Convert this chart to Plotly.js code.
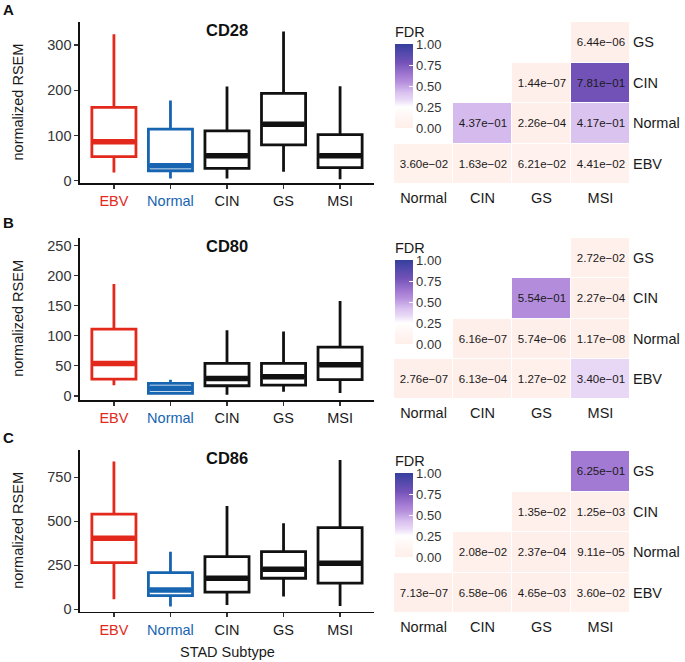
<!DOCTYPE html>
<html><head><meta charset="utf-8">
<script src="https://cdn.plot.ly/plotly-3.0.1.min.js"></script>
<style>html,body{margin:0;padding:0;background:#fff}</style>
</head><body><div id="chart" style="width:685px;height:662px"></div>
<script>
// ---------- data ----------
const subtypes = ['EBV', 'Normal', 'CIN', 'GS', 'MSI'];
const genes = ['CD28', 'CD80', 'CD86'];

// box statistics, order = subtypes
const cd28Lower  = [18, 5, 5, 20, 3];
const cd28Q1     = [53, 22, 27, 79, 29];
const cd28Median = [86, 33, 55, 125, 55];
const cd28Q3     = [162, 114, 110, 193, 102];
const cd28Upper  = [324, 177, 208, 330, 209];

const cd80Lower  = [18, 2, 2, 7, 5];
const cd80Q1     = [28, 4.5, 17, 18, 27];
const cd80Median = [54, 13, 29, 32, 52];
const cd80Q3     = [111, 21, 54, 54, 81];
const cd80Upper  = [186, 27, 109, 107, 158];

const cd86Lower  = [57, 15, 24, 72, 19];
const cd86Q1     = [265, 77, 97, 176, 148];
const cd86Median = [403, 110, 176, 227, 261];
const cd86Q3     = [541, 208, 299, 327, 464];
const cd86Upper  = [839, 327, 587, 489, 848];

// FDR heatmaps: rows bottom->top, columns left->right
const heatCols = ['Normal', 'CIN', 'GS', 'MSI'];
const heatRows = ['EBV', 'Normal', 'CIN', 'GS'];
const cd28Fdr = [
  [3.60e-02, 1.63e-02, 6.21e-02, 4.41e-02],
  [null,     4.37e-01, 2.26e-04, 4.17e-01],
  [null,     null,     1.44e-07, 7.81e-01],
  [null,     null,     null,     6.44e-06]
];
const cd80Fdr = [
  [2.76e-07, 6.13e-04, 1.27e-02, 3.40e-01],
  [null,     6.16e-07, 5.74e-06, 1.17e-08],
  [null,     null,     5.54e-01, 2.27e-04],
  [null,     null,     null,     2.72e-02]
];
const cd86Fdr = [
  [7.13e-07, 6.58e-06, 4.65e-03, 3.60e-02],
  [null,     2.08e-02, 2.37e-04, 9.11e-05],
  [null,     null,     1.35e-02, 1.25e-03],
  [null,     null,     null,     6.25e-01]
];

const yTicks = [[0, 100, 200, 300], [0, 50, 100, 150, 200, 250], [0, 250, 500, 750]];
const yRanges = [[-5.8, 351.5], [-6.7, 263], [-14, 905]];

// ---------- styling / layout ----------
const W = 685, H = 662;
const FONT = 'Liberation Sans, Arial, sans-serif';
const subColors = ['#E3291C', '#1764B1', '#111111', '#111111', '#111111'];
const px = v => v / W;
const py = v => 1 - v / H;

const boxStats = [
  [cd28Lower, cd28Q1, cd28Median, cd28Q3, cd28Upper],
  [cd80Lower, cd80Q1, cd80Median, cd80Q3, cd80Upper],
  [cd86Lower, cd86Q1, cd86Median, cd86Q3, cd86Upper]
];
const fdrs = [cd28Fdr, cd80Fdr, cd86Fdr];

// pixel geometry per row of panels [top, bottom]
const boxY = [[21.7, 183.3], [237.7, 400], [450, 611.7]];
const heatY = [[22, 184], [238, 399], [451, 613]];
const cbTop = [23, 239, 452];
const letterY = [10, 222, 437];
const letters = ['A', 'B', 'C'];

const colorscale = [
  [0.00, '#FFEFEA'], [0.12, '#FFF5F2'], [0.25, '#FFFFFF'],
  [0.34, '#E8D8F6'], [0.42, '#DAC2F0'], [0.55, '#B48EDC'],
  [0.625, '#A37AD3'], [0.78, '#7352B8'], [1.00, '#35409E']
];

function fmt(v) {
  if (v === null) return '';
  let s = v.toExponential(2);
  s = s.replace(/e([+-])(\d)$/, 'e$10$2');
  return s.replace('-', '\u2212');
}

const traces = [];
const annotations = [];
const layout = {
  width: W, height: H,
  margin: {l: 0, r: 0, t: 0, b: 0},
  paper_bgcolor: '#fff', plot_bgcolor: 'rgba(0,0,0,0)',
  showlegend: false,
  font: {family: FONT, color: '#111'},
  annotations: annotations
};

const halfW = 0.39;
for (let g = 0; g < 3; g++) {
  const bx = 2 * g + 1, hx = 2 * g + 2;
  const bxs = bx === 1 ? '' : String(bx);
  const [lo, q1, med, q3, up] = boxStats[g];

  for (let i = 0; i < subtypes.length; i++) {
    traces.push({
      type: 'box', xaxis: 'x' + bxs, yaxis: 'y' + bxs,
      x: [i], q1: [q1[i]], median: [med[i]], q3: [q3[i]],
      lowerfence: [lo[i]], upperfence: [up[i]],
      width: 2 * halfW, whiskerwidth: 0, boxpoints: false,
      line: {color: subColors[i], width: 2.8},
      fillcolor: 'rgba(255,255,255,0)', hoverinfo: 'skip'
    });
    traces.push({
      type: 'scatter', mode: 'lines', xaxis: 'x' + bxs, yaxis: 'y' + bxs,
      x: [i - halfW + 0.02, i + halfW - 0.02], y: [med[i], med[i]],
      line: {color: subColors[i], width: 5.5}, hoverinfo: 'skip'
    });
  }

  layout['xaxis' + bxs] = {
    domain: [px(80), px(374)], anchor: 'y' + bxs, range: [-0.6, 4.6],
    tickmode: 'array', tickvals: subtypes.map((_, i) => i),
    ticktext: subtypes.map((s, i) => `<span style="color:${subColors[i] === '#111111' ? '#1a1a1a' : subColors[i]}">${s}</span>`),
    showline: true, linecolor: '#111', linewidth: 1.6,
    ticks: 'outside', ticklen: 4, tickwidth: 1.2, tickcolor: '#333',
    showgrid: false, zeroline: false,
    tickfont: {size: 14.5, family: FONT}
  };
  layout['yaxis' + bxs] = {
    domain: [py(boxY[g][1]), py(boxY[g][0])], anchor: 'x' + bxs,
    range: yRanges[g], tickmode: 'array', tickvals: yTicks[g],
    showline: true, linecolor: '#111', linewidth: 1.6,
    ticks: 'outside', ticklen: 4, tickwidth: 1.2, tickcolor: '#333',
    showgrid: false, zeroline: false,
    tickfont: {size: 14.5, family: FONT, color: '#333'}
  };

  // heatmap
  const hxs = String(hx);
  const z = fdrs[g];
  const text = z.map(r => r.map(fmt));
  traces.push({
    type: 'heatmap', xaxis: 'x' + hxs, yaxis: 'y' + hxs,
    x: heatCols, y: heatRows, z: z, text: text,
    texttemplate: '%{text}', textfont: {size: 11.5, family: FONT, color: '#1a1a1a'},
    coloraxis: g === 0 ? 'coloraxis' : 'coloraxis' + (g + 1),
    xgap: 1, ygap: 1, hoverongaps: false, hoverinfo: 'skip'
  });
  layout['xaxis' + hxs] = {
    domain: [px(394), px(630)], anchor: 'y' + hxs, type: 'category',
    showline: false, ticks: '', showgrid: false, zeroline: false,
    tickfont: {size: 14.5, family: FONT, color: '#1a1a1a'}, ticklabelstandoff: 3
  };
  layout['yaxis' + hxs] = {
    domain: [py(heatY[g][1]), py(heatY[g][0])], anchor: 'x' + hxs, type: 'category',
    side: 'right', showline: false, ticks: '', showgrid: false, zeroline: false,
    tickfont: {size: 14.5, family: FONT, color: '#1a1a1a'}, ticklabelstandoff: 2
  };
  layout[g === 0 ? 'coloraxis' : 'coloraxis' + (g + 1)] = {
    cmin: 0, cmax: 1, colorscale: colorscale,
    colorbar: {
      x: px(395), xanchor: 'left', y: py(cbTop[g]), yanchor: 'top',
      lenmode: 'pixels', len: 105, thicknessmode: 'pixels', thickness: 18,
      xpad: 0, ypad: 0, outlinewidth: 0,
      tickmode: 'array', tickvals: [0, 0.25, 0.5, 0.75, 1],
      ticktext: ['0.00', '0.25', '0.50', '0.75', '1.00'],
      ticks: 'inside', ticklen: 4, tickcolor: '#fff', tickwidth: 1,
      tickfont: {size: 13, family: FONT, color: '#333'},
      title: {text: 'FDR', side: 'top', font: {size: 14.5, family: FONT, color: '#1a1a1a'}}
    }
  };

  // annotations: gene title, y title, panel letter
  annotations.push({
    xref: 'paper', yref: 'paper', x: px(227), y: py(boxY[g][0] + 8),
    xanchor: 'center', yanchor: 'middle', showarrow: false,
    text: '<b>' + genes[g] + '</b>', font: {size: 16.5, family: FONT, color: '#111'}
  });
  annotations.push({
    xref: 'paper', yref: 'paper', x: px(18), y: py((boxY[g][0] + boxY[g][1]) / 2),
    xanchor: 'center', yanchor: 'middle', showarrow: false, textangle: -90,
    text: 'normalized RSEM', font: {size: 14.5, family: FONT, color: '#1a1a1a'}
  });
  annotations.push({
    xref: 'paper', yref: 'paper', x: px(1), y: py(letterY[g]),
    xanchor: 'left', yanchor: 'middle', showarrow: false,
    text: '<b>' + letters[g] + '</b>', font: {size: 15, family: FONT, color: '#111'}
  });
}
annotations.push({
  xref: 'paper', yref: 'paper', x: px(227), y: py(652),
  xanchor: 'center', yanchor: 'middle', showarrow: false,
  text: 'STAD Subtype', font: {size: 14.5, family: FONT, color: '#1a1a1a'}
});

Plotly.newPlot('chart', traces, layout, {staticPlot: true, displayModeBar: false});
</script></body></html>
